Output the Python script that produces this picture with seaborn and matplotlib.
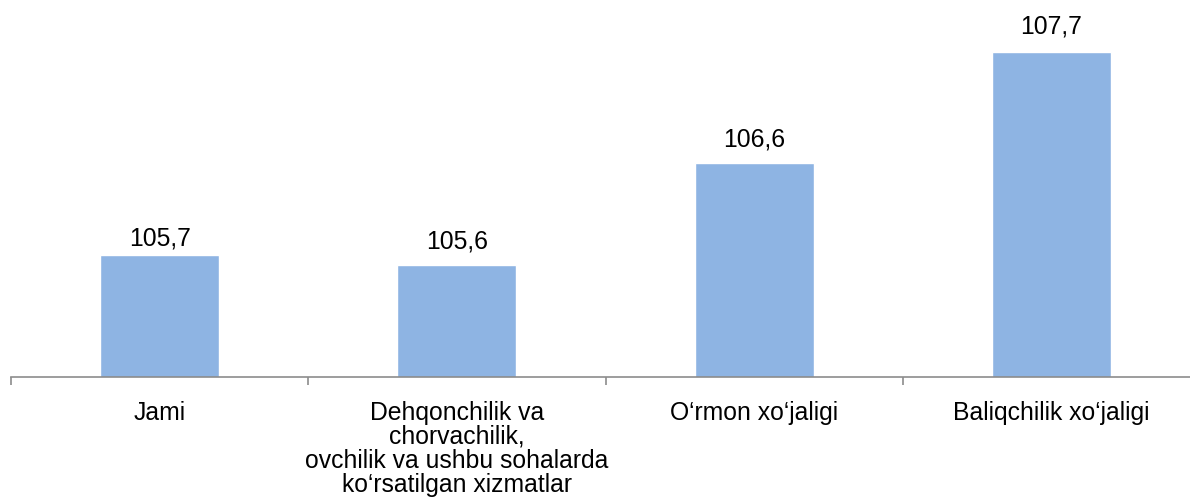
import matplotlib
matplotlib.use("Agg")
import matplotlib.pyplot as plt
import seaborn as sns
import pandas as pd

categories = ["Jami",
              "Dehqonchilik va\nchorvachilik,\novchilik va ushbu sohalarda\nko\u2018rsatilgan xizmatlar",
              "O\u2018rmon xo\u2018jaligi",
              "Baliqchilik xo\u2018jaligi"]
values = [105.7, 105.6, 106.6, 107.7]
value_labels = ["105,7", "105,6", "106,6", "107,7"]

sns.set_theme(style="white")
plt.rcParams['font.family'] = ['Liberation Sans', 'DejaVu Sans']

fig = plt.figure(figsize=(11.9, 5.0), dpi=100)
ax = fig.add_axes([11/1190, 1 - 377/500, 1189/1190, 356/500])

df = pd.DataFrame({"cat": categories, "val": values})
sns.barplot(data=df, x="cat", y="val", color="#8EB4E3", saturation=1, width=0.4, ax=ax)

ax.set_ylim(104.5, 108.0)
ax.set_xlim(-0.5, 3.5)
ax.set_xlabel("")
ax.set_ylabel("")
ax.set_yticks([])

for s in ["top", "right", "left"]:
    ax.spines[s].set_visible(False)
ax.spines["bottom"].set_color("#8C8C8C")
ax.spines["bottom"].set_linewidth(1.2)

ax.set_xticks(range(len(categories)))
ax.set_xticklabels(categories, fontsize=17.8, color="black", linespacing=1.0)
ax.tick_params(axis="x", which="major", length=0, pad=17)
ax.set_xticks([i - 0.5 for i in range(len(categories) + 1)], minor=True)
ax.tick_params(axis="x", which="minor", length=6, width=1.2, color="#8C8C8C", bottom=True, direction="out")

offsets = [12, 17, 17, 18]
for i, (v, lab) in enumerate(zip(values, value_labels)):
    ax.annotate(lab, xy=(i, v), xytext=(0, offsets[i]), textcoords="offset points",
                ha="center", va="center", fontsize=17.8, color="black")

fig.savefig("out.png", dpi=100, facecolor="white")
